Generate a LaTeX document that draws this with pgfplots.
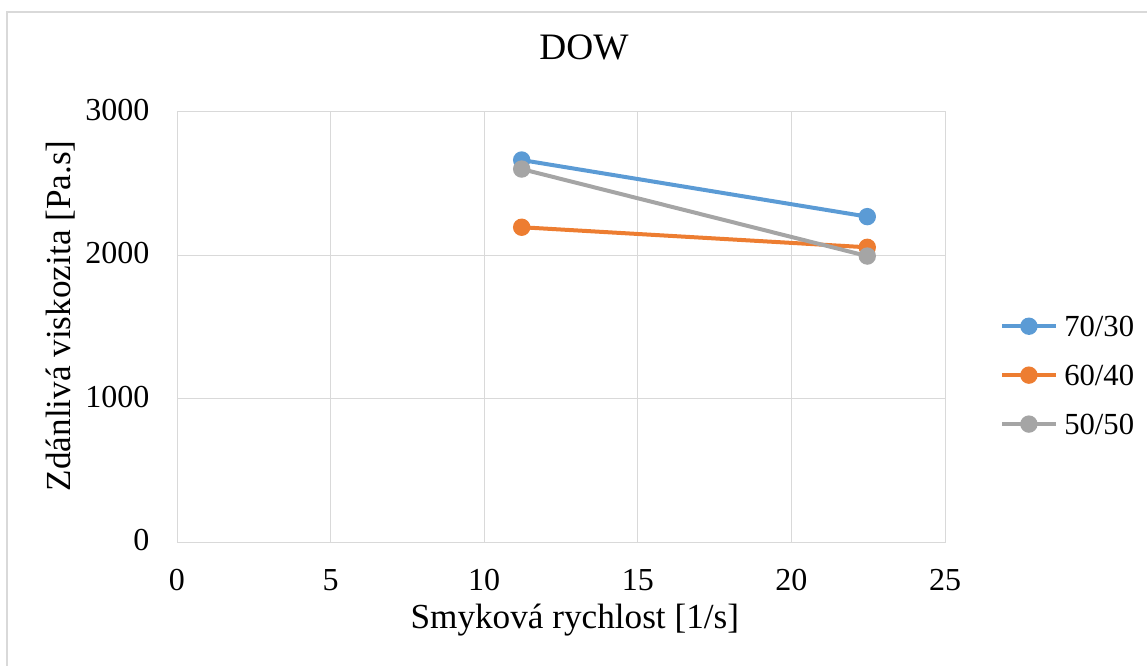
\documentclass[border=0pt]{standalone}
\usepackage{pgfplots}
\pgfplotsset{compat=1.18}
\usepackage{fontspec}
\setmainfont{Liberation Serif}
\definecolor{cblue}{HTML}{5B9BD5}
\definecolor{corange}{HTML}{ED7D31}
\definecolor{cgray}{HTML}{A5A5A5}
\definecolor{grid}{HTML}{D9D9D9}
\begin{document}
\begin{tikzpicture}
\begin{axis}[
  at={(132.75pt,-406.5pt)}, anchor=south west,
  scale only axis, width=576pt, height=322.5pt,
  xmin=0, xmax=25, ymin=0, ymax=3000,
  xtick={0,5,...,25}, ytick={0,1000,2000,3000},
  grid=major, major grid style={draw=grid, line width=0.75pt},
  axis line style={draw=grid, line width=0.75pt},
  tick style={draw=none},
  /pgf/number format/assume math mode=true,
  /pgf/number format/1000 sep={},
  ticklabel style={font=\fontsize{24}{28}\selectfont},
  xticklabel style={anchor=base, yshift=-36pt},
  yticklabel style={anchor=east, inner sep=0pt, xshift=-20.5pt, yshift=1.5pt},
  title={DOW},
  title style={at={(rel axis cs:0.53,1.103)}, anchor=base, font=\fontsize{28}{32}\selectfont, inner sep=0pt},
  xlabel={Smyková rychlost [1/s]},
  xlabel style={at={(rel axis cs:0.518,-0.2)}, anchor=base, font=\fontsize{26.4}{30}\selectfont, inner sep=0pt},
  ylabel={Zdánlivá viskozita [Pa.s]},
  ylabel style={at={(rel axis cs:-0.1393,0.526)}, anchor=base, font=\fontsize{26.4}{30}\selectfont, inner sep=0pt},
  legend style={at={(rel axis cs:1.0716,0.388)}, anchor=west, draw=none, fill=none,
    inner sep=0pt, row sep=21.2pt,
    font=\fontsize{23}{27}\selectfont,
    nodes={inner sep=0pt, text height=15.5pt, text depth=0pt}},
  legend cell align=left,
  legend image code/.code={%
    \draw[#1, mark=none] (0pt,0pt) -- (40pt,0pt);
    \draw[#1, only marks] plot coordinates {(20pt,0pt)};
    \path (45pt,0pt);
  },
  every axis plot/.append style={line width=3pt, mark=*, mark size=5pt},
]
\addplot[color=cblue, mark options={fill=cblue, draw=cblue}] coordinates {(11.22,2665) (22.47,2270)};
\addlegendentry{70/30}
\addplot[color=corange, mark options={fill=corange, draw=corange}] coordinates {(11.22,2196) (22.47,2056)};
\addlegendentry{60/40}
\addplot[color=cgray, mark options={fill=cgray, draw=cgray}] coordinates {(11.22,2602) (22.47,1995)};
\addlegendentry{50/50}
\end{axis}
\draw[draw=grid, line width=1.5pt] (5.25pt,-499.5pt) -- (5.25pt,-9.375pt) -- (860.25pt,-9.375pt);
\pgfresetboundingbox
\useasboundingbox (0,0) rectangle (860.25pt,-499.5pt);
\end{tikzpicture}
\end{document}
